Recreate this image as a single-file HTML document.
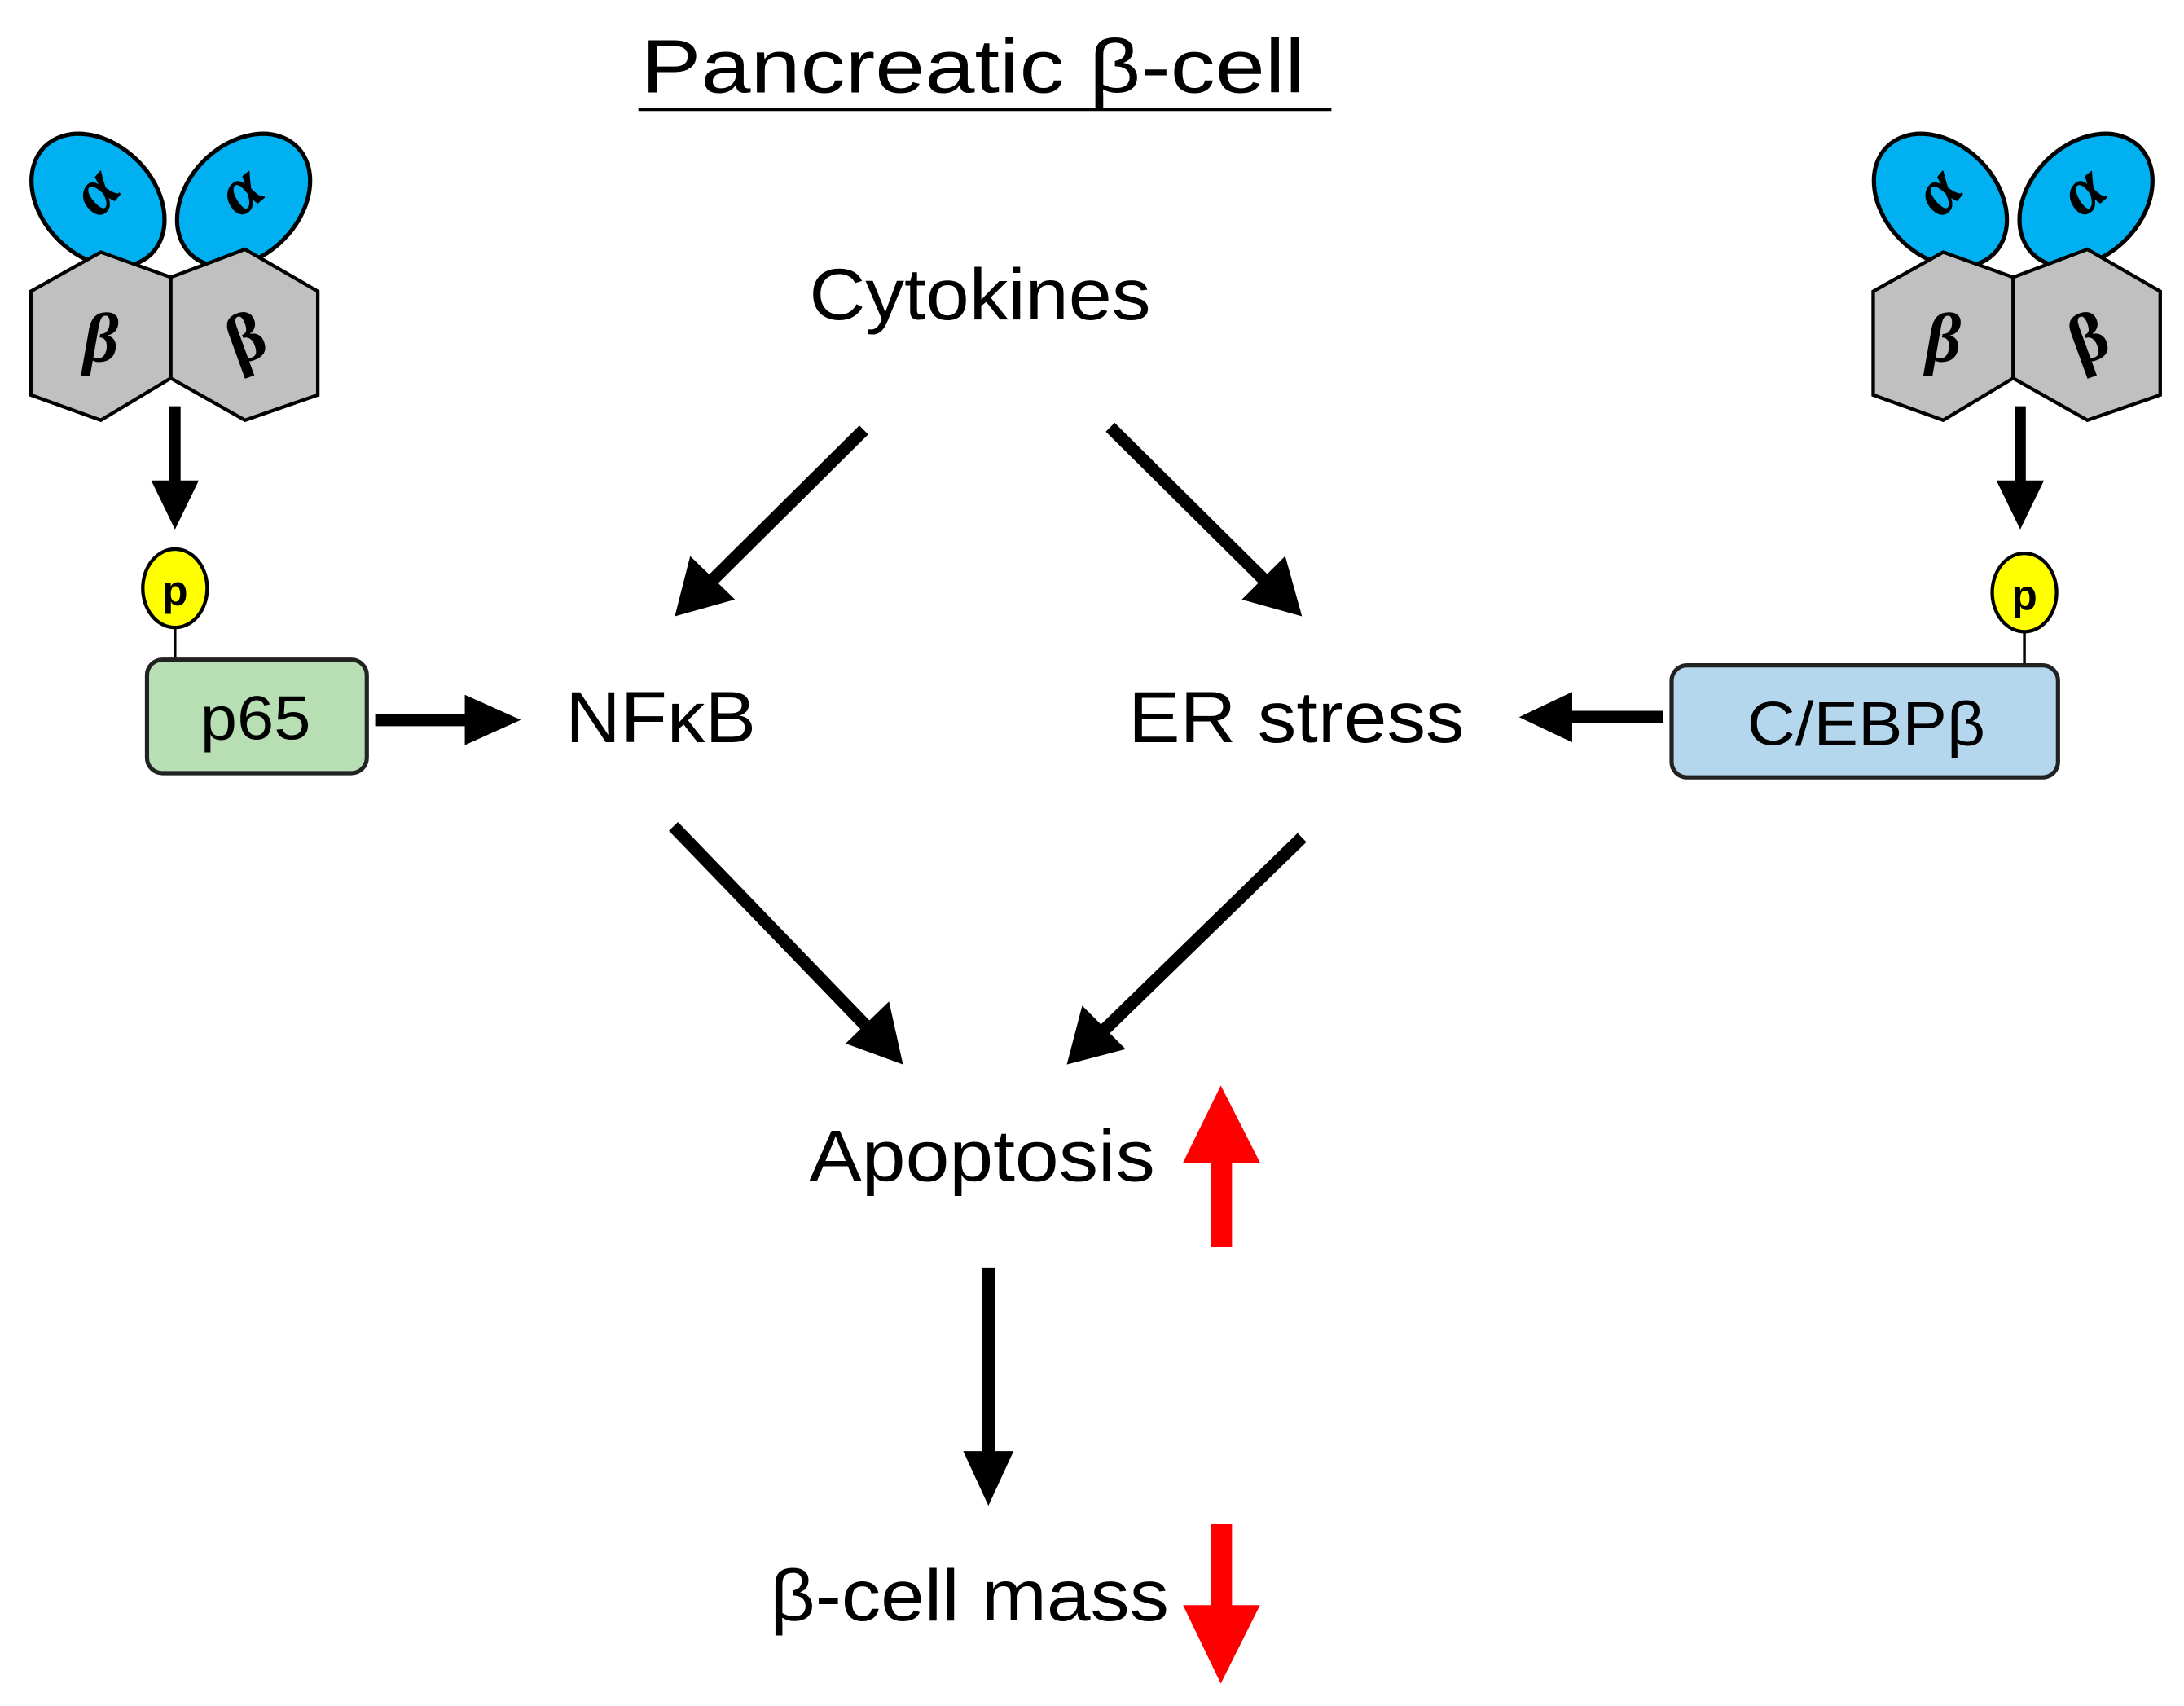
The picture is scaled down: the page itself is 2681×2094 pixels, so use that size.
<!DOCTYPE html>
<html><head><style>html,body{margin:0;padding:0;background:#fff}svg{display:block}</style></head>
<body>
<svg width="2681" height="2094" viewBox="0 0 1560 1218" preserveAspectRatio="none" xmlns="http://www.w3.org/2000/svg" font-family="Liberation Sans, sans-serif">
<defs>
<g id="ikk">
  <ellipse cx="70" cy="143" rx="54" ry="40" transform="rotate(45 70 143)" fill="#00b0f0" stroke="#000" stroke-width="3"/>
  <ellipse cx="174" cy="143" rx="54" ry="40" transform="rotate(-45 174 143)" fill="#00b0f0" stroke="#000" stroke-width="3"/>
  <polygon points="22,208 72,180 122,198 122,270 72,300 22,282" fill="#c0c0c0" stroke="#000" stroke-width="2.5"/>
  <polygon points="122,198 175,178 227,208 227,282 175,300 122,270" fill="#c0c0c0" stroke="#000" stroke-width="2.5"/>
  <text x="72" y="150" font-size="48" font-weight="bold" text-anchor="middle" transform="rotate(-50 72 140)" font-family="Liberation Serif, serif" font-style="italic">α</text>
  <text x="175" y="150" font-size="48" font-weight="bold" text-anchor="middle" transform="rotate(-40 175 140)" font-family="Liberation Serif, serif" font-style="italic">α</text>
  <text x="72" y="258" font-size="50" font-weight="bold" text-anchor="middle" font-family="Liberation Serif, serif" font-style="italic">β</text>
  <text x="175" y="258" font-size="50" font-weight="bold" text-anchor="middle" transform="rotate(-20 175 240)" font-family="Liberation Serif, serif">β</text>
</g>
</defs>
<text x="458" y="66" font-size="54" textLength="474" lengthAdjust="spacingAndGlyphs">Pancreatic β-cell</text>
<line x1="456" y1="78" x2="951" y2="78" stroke="#000" stroke-width="2.5"/>

<use href="#ikk"/>
<use href="#ikk" transform="translate(1316,0)"/>

<line x1="125" y1="290" x2="125" y2="345" stroke="#000" stroke-width="8"/>
<polygon points="108,343 142,343 125,378" fill="#000"/>
<line x1="125" y1="440" x2="125" y2="472" stroke="#000" stroke-width="2"/>
<ellipse cx="125" cy="420" rx="23" ry="28" fill="#ffff00" stroke="#000" stroke-width="2.5"/>
<text x="125" y="432" font-size="30" font-weight="bold" text-anchor="middle">p</text>
<rect x="105" y="471" width="157" height="81" rx="11" fill="#b8dfb4" stroke="#222" stroke-width="3"/>
<text x="143" y="528" font-size="44" textLength="79" lengthAdjust="spacingAndGlyphs">p65</text>
<line x1="268" y1="514" x2="335" y2="514" stroke="#000" stroke-width="9"/>
<polygon points="332,496 372,514 332,532" fill="#000"/>

<line x1="1443" y1="290" x2="1443" y2="345" stroke="#000" stroke-width="8"/>
<polygon points="1426,343 1460,343 1443,378" fill="#000"/>
<line x1="1446" y1="445" x2="1446" y2="476" stroke="#000" stroke-width="2"/>
<ellipse cx="1446" cy="423" rx="23" ry="28" fill="#ffff00" stroke="#000" stroke-width="2.5"/>
<text x="1446" y="435" font-size="30" font-weight="bold" text-anchor="middle">p</text>
<rect x="1194" y="475" width="276" height="80" rx="11" fill="#b4d7ee" stroke="#222" stroke-width="3"/>
<text x="1248" y="532" font-size="44" textLength="170" lengthAdjust="spacingAndGlyphs">C/EBPβ</text>
<line x1="1188" y1="512" x2="1120" y2="512" stroke="#000" stroke-width="9"/>
<polygon points="1123,494 1085,512 1123,530" fill="#000"/>

<text x="578" y="228" font-size="52" textLength="244" lengthAdjust="spacingAndGlyphs">Cytokines</text>
<text x="404" y="530" font-size="52" textLength="136" lengthAdjust="spacingAndGlyphs">NFκB</text>
<text x="806" y="530" font-size="52" textLength="240" lengthAdjust="spacingAndGlyphs">ER stress</text>
<text x="578" y="843" font-size="52" textLength="247" lengthAdjust="spacingAndGlyphs">Apoptosis</text>
<text x="550" y="1157" font-size="52" textLength="285" lengthAdjust="spacingAndGlyphs">β-cell mass</text>

<g stroke="#000" stroke-width="9" fill="none">
<line x1="617" y1="307" x2="505" y2="418"/>
<line x1="793" y1="305" x2="907" y2="418"/>
<line x1="481" y1="590" x2="622" y2="736"/>
<line x1="930" y1="598" x2="786" y2="738"/>
<line x1="706" y1="905" x2="706" y2="1040"/>
</g>
<polygon points="482,440 493,397 525,428" fill="#000"/>
<polygon points="930,440 887,428 918,397" fill="#000"/>
<polygon points="645,760 604,745 635,715" fill="#000"/>
<polygon points="762,760 773,718 804,749" fill="#000"/>
<polygon points="688,1036 724,1036 706,1075" fill="#000"/>

<rect x="865" y="828" width="15" height="62" fill="#ff0000"/>
<polygon points="845,830 900,830 872,775" fill="#ff0000"/>
<rect x="865" y="1088" width="15" height="62" fill="#ff0000"/>
<polygon points="845,1146 900,1146 872,1202" fill="#ff0000"/>
</svg>
</body></html>
